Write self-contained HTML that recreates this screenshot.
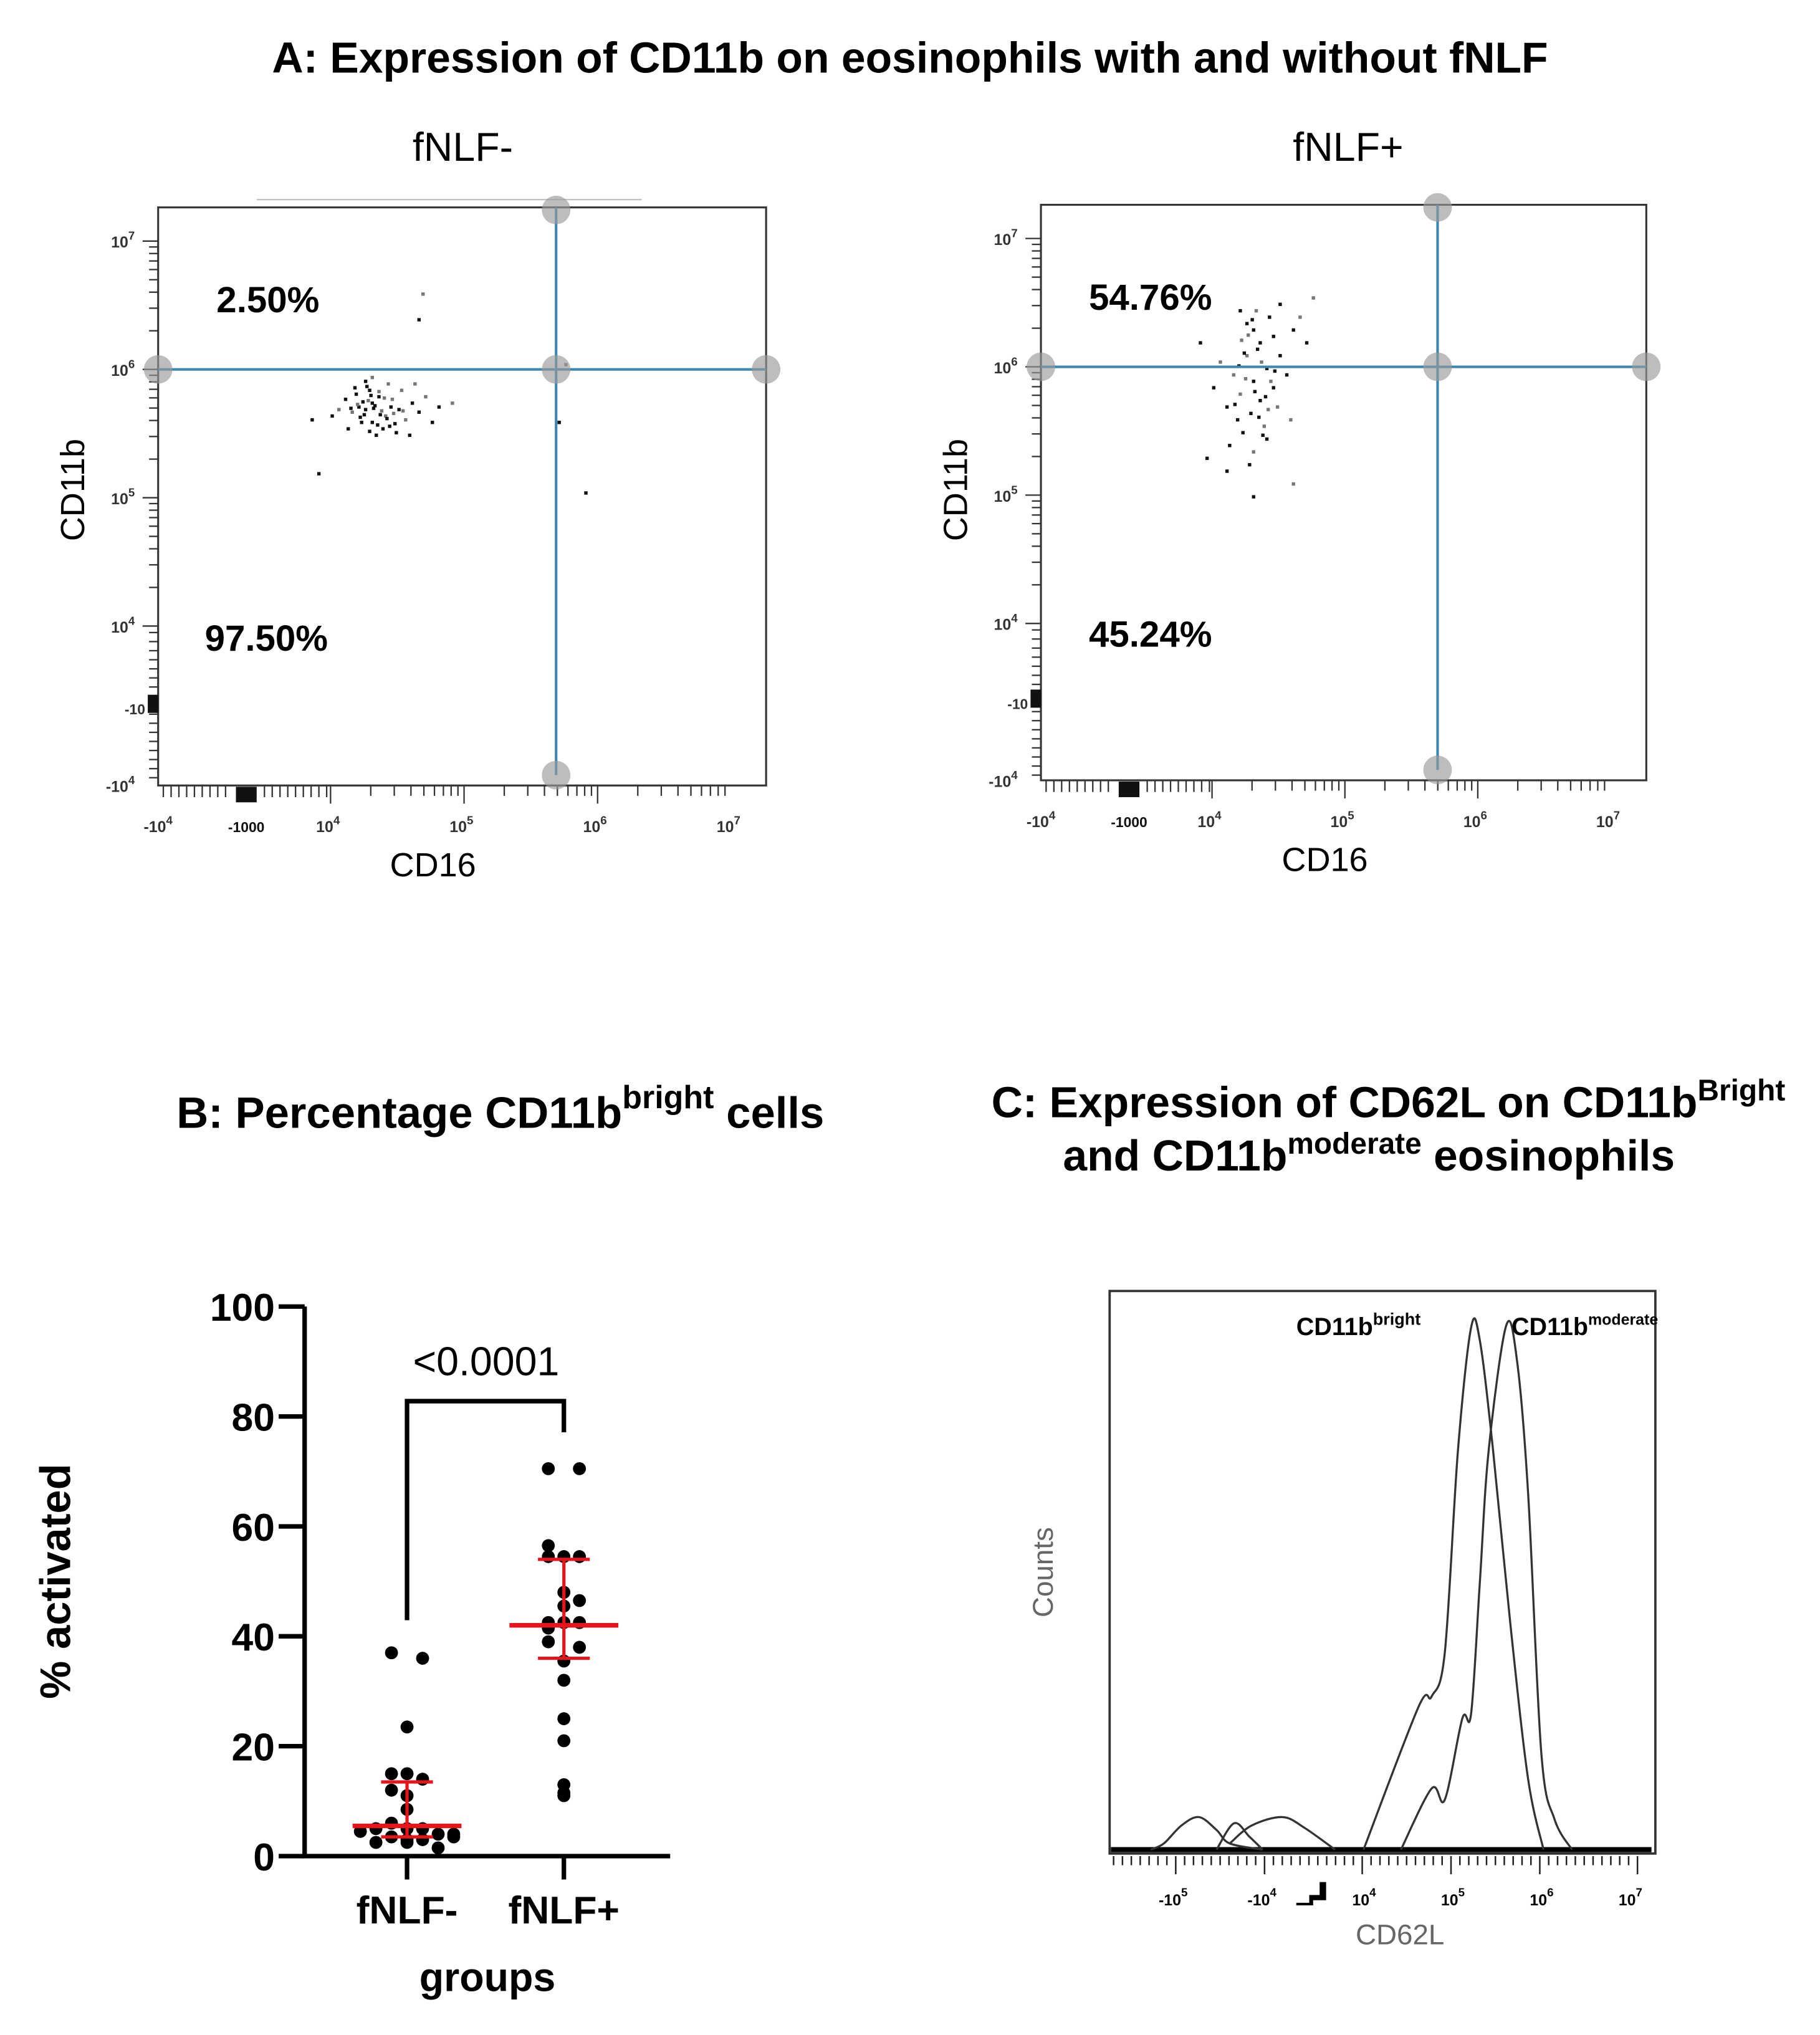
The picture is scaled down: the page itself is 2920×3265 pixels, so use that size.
<!DOCTYPE html>
<html><head><meta charset="utf-8"><style>
html,body{margin:0;padding:0;background:#fff}
svg{display:block}
text{font-family:"Liberation Sans",Arial,sans-serif}
</style></head><body>
<svg id="fig" width="2920" height="3265" viewBox="0 0 1404 1570" preserveAspectRatio="none" xmlns="http://www.w3.org/2000/svg">
<rect width="1404" height="1570" fill="#fff"/>
<text x="702" y="56" font-size="33.5" font-weight="bold" text-anchor="middle">A: Expression of CD11b on eosinophils with and without fNLF</text>
<text x="357" y="124" font-size="31" text-anchor="middle">fNLF-</text>
<text x="1040" y="124" font-size="31" text-anchor="middle">fNLF+</text>
<line x1="198" y1="154" x2="495" y2="154" stroke="#bbb" stroke-width="1"/>
<g id="panelA1"></g>
<g id="panelA2"></g>
<text x="386" y="870" font-size="34" font-weight="bold" text-anchor="middle">B: Percentage CD11b<tspan dy="-15" font-size="25">bright</tspan><tspan dy="15"> cells</tspan></text>
<text x="1071" y="862" font-size="33.5" font-weight="bold" text-anchor="middle">C: Expression of CD62L on CD11b<tspan dy="-13" font-size="23">Bright</tspan></text>
<text x="1056" y="903" font-size="33.5" font-weight="bold" text-anchor="middle">and CD11b<tspan dy="-13" font-size="23">moderate</tspan><tspan dy="13"> eosinophils</tspan></text>
<g id="panelB"></g>
<g id="panelC"></g>
</svg>
<script>
// ---------- Panel B data ----------
const bCategories = ["fNLF-", "fNLF+"];
const bNegValues = [37,36,23.5,15,15,14,12,11,8.5,6,5,5,5,4.5,4,4,3.5,3.5,3,3,2.5,2.5,1.5];
const bNegJitter = [-1,1,0,-1,0,1,-1,0,0,-1,-2,0,1,-3,3,2,-1,3,0,1,-2,0,2];
const bPosValues = [70.5,70.5,56.5,54.5,54.5,54.5,48,46.5,45.5,42.5,42.5,42.5,41.5,39,38,35.5,32,25,21,13,11.5,11];
const bPosJitter = [-1,1,-1,-1,0,1,0,1,0,-1,0,1,-1,-1,1,0,0,0,0,0,0,0];
const bMedian = [5.5, 42];
const bQ1 = [3.5, 36];
const bQ3 = [13.5, 54];
const bTicks = [0,20,40,60,80,100];
const bPText = "<0.0001";

// ---------- Panel C data ----------
const cBrightT = [2.115,2.733,2.882,3.03,3.178,3.326,3.425,3.574,3.771,3.969,4.142];
const cBrightC = [0,25.4,27.3,35.1,71.1,93.0,90.7,71.1,39.8,12.5,0];
const cModT = [2.536,2.882,3.03,3.228,3.326,3.425,3.524,3.722,3.846,3.969,4.117,4.266,4.463];
const cModC = [0,10.9,8.9,23.4,24.2,47.7,71.1,93.4,86.8,63.3,17.2,5.4,0];
const cNeg1T = [-0.282,-0.134,0.064,0.262,0.46,0.608,0.979];
const cNeg1C = [0,1.1,4.3,5.8,3.5,1.1,0];
const cNeg2T = [0.46,0.657,0.83,0.979];
const cNeg2C = [0,4.7,2.3,0];
const cNeg3T = [0.608,0.855,1.201,1.449,1.794];
const cNeg3C = [1.1,4.3,5.8,3.9,0];
const cTickT = [0,1,2.15,3.15,4.15,5.15];
const cTickExp = ["5","4","4","5","6","7"];
const cTickSign = ["-","-","","","",""];

// ---------- Panel A data (log10 values) ----------
const aNegX = [4.3,4.25,4.4,4.35,4.2,4.45,4.5,4.3,4.15,4.38,4.28,4.55,4.6,4.22,4.42,4.1,4.65,4.7,4.33,4.48,4.05,4.8,4.25,4.52,4.18,4.36,4.27,4.44,4.75,4.9,4.0,3.85,4.3,4.58,4.12,4.62,3.9,4.65,4.68,5.7,5.9,5.75,4.32,4.24,4.37,4.29,4.41,4.19,4.34,4.26,4.46,4.31,4.21,4.39,4.23,4.47,4.35,4.28,4.14,4.53,4.43,4.17];
const aNegY = [5.75,5.7,5.65,5.8,5.72,5.78,5.7,5.6,5.68,5.55,5.85,5.62,5.75,5.6,5.9,5.78,5.68,5.8,5.5,5.52,5.7,5.72,5.92,5.85,5.82,5.66,5.77,5.72,5.6,5.75,5.65,5.62,5.95,5.5,5.55,5.9,5.2,6.4,6.6,5.6,5.05,6.05,5.73,5.66,5.69,5.81,5.63,5.74,5.58,5.88,5.67,5.71,5.64,5.79,5.76,5.59,5.84,5.53,5.71,5.69,5.57,5.87];
const aPosX = [4.3,4.35,4.25,4.4,4.3,4.2,4.35,4.45,4.15,4.5,4.28,4.38,4.22,4.42,4.32,4.55,4.1,4.05,4.6,4.25,4.48,4.18,4.4,4.3,4.12,4.5,4.65,4.7,4.0,4.58,3.95,4.1,4.6,4.3,3.9,4.75,4.45,4.2,4.36,4.27,4.33,4.24,4.39,4.29,4.41,4.19,4.34,4.26,4.46,4.31,4.21,4.37,4.23,4.43,4.16];
const aPosY = [6.3,6.2,6.1,6.0,5.9,5.8,5.75,5.85,5.95,6.1,5.65,5.55,5.5,6.4,6.45,5.95,5.7,6.05,6.3,6.35,5.7,5.6,5.45,5.35,5.4,6.5,6.4,6.2,5.85,5.6,5.3,5.2,5.1,5.0,6.2,6.55,6.25,6.45,6.05,5.25,6.15,5.92,5.78,6.38,5.68,6.02,5.62,6.26,5.98,5.82,6.22,5.48,6.12,5.9,5.72];
const aNegQuad = ["2.50%","97.50%"];
const aPosQuad = ["54.76%","45.24%"];

const NS="http://www.w3.org/2000/svg";
function mk(parent,tag,attrs){const e=document.createElementNS(NS,tag);for(const k in attrs)e.setAttribute(k,attrs[k]);parent.appendChild(e);return e;}

// ----- Panel B -----
(function(){
  const g=document.getElementById('panelB');
  const y=v=>1432-v*4.24;
  const xc=[314,435];
  const ax=mk(g,'path',{d:'M235 1008 V1432 H517',fill:'none',stroke:'#000','stroke-width':3.5});
  
  
  bTicks.forEach(t=>{
    const l=mk(g,'line',{x1:215,x2:235,y1:y(t),y2:y(t),stroke:'#000','stroke-width':3.5});
    
    
    const tx=mk(g,'text',{x:212,y:y(t)+11,'font-size':30,'font-weight':'bold','text-anchor':'end'});
    tx.textContent=t;
    
    
  });
  xc.forEach((x,i)=>{
    const l=mk(g,'line',{x1:x,x2:x,y1:1432,y2:1450,stroke:'#000','stroke-width':3.5});
    
    
    const tx=mk(g,'text',{x:x,y:1484,'font-size':30,'font-weight':'bold','text-anchor':'middle'});
    tx.textContent=bCategories[i];
    
    
  });
  const yt=mk(g,'text',{x:0,y:0,'font-size':33,'font-weight':'bold','text-anchor':'middle',transform:'translate(54 1220) rotate(-90)'});
  yt.textContent='% activated';
  
  
  const xt=mk(g,'text',{x:376,y:1536,'font-size':31,'font-weight':'bold','text-anchor':'middle'});
  xt.textContent='groups';
  
  
  const top=1081;
  const br=mk(g,'path',{d:`M${xc[0]} 1250 V${top} H${xc[1]} V1105`,fill:'none',stroke:'#000','stroke-width':3.5});
  
  
  const pt=mk(g,'text',{x:375,y:1061,'font-size':31,'text-anchor':'middle'});
  pt.textContent=bPText;
  
  
  [[bNegValues,bNegJitter],[bPosValues,bPosJitter]].forEach((s,i)=>{
    s[0].forEach((v,j)=>{
      const c=mk(g,'circle',{cx:xc[i]+s[1][j]*12,cy:y(v),r:5,fill:'#000'});
      
      
    });
    const red='#e8141b';
    const m=mk(g,'line',{x1:xc[i]-42,x2:xc[i]+42,y1:y(bMedian[i]),y2:y(bMedian[i]),stroke:red,'stroke-width':3.5});
    
    
    const v=mk(g,'line',{x1:xc[i],x2:xc[i],y1:y(bQ1[i]),y2:y(bQ3[i]),stroke:red,'stroke-width':2.5});
    
    
    [bQ1[i],bQ3[i]].forEach(q=>{
      const h=mk(g,'line',{x1:xc[i]-20,x2:xc[i]+20,y1:y(q),y2:y(q),stroke:red,'stroke-width':2.5});
      
      
    });
  });
})();

// ----- Panel C -----
(function(){
  const g=document.getElementById('panelC');
  const X=t=>907+68.5*t, Y=c=>1427-c*4.33;
  const box=mk(g,'rect',{x:856,y:996,width:421,height:434,fill:'none',stroke:'#333','stroke-width':1.8});
  
  
  const base=mk(g,'line',{x1:857,x2:1274,y1:1427,y2:1427,stroke:'#000','stroke-width':4});
  
  
  [[cBrightT,cBrightC,'bright-curve'],[cModT,cModC,'moderate-curve'],[cNeg1T,cNeg1C,'negative-bump'],[cNeg2T,cNeg2C,'negative-bump'],[cNeg3T,cNeg3C,'negative-bump']].forEach(s=>{
    const P=s[0].map((t,i)=>[X(t),Y(s[1][i])]);
    let d='M'+P[0][0]+' '+P[0][1];
    for(let i=0;i<P.length-1;i++){
      const p0=P[Math.max(0,i-1)],p1=P[i],p2=P[i+1],p3=P[Math.min(P.length-1,i+2)];
      const c1=[p1[0]+(p2[0]-p0[0])/6,p1[1]+(p2[1]-p0[1])/6];
      const c2=[p2[0]-(p3[0]-p1[0])/6,p2[1]-(p3[1]-p1[1])/6];
      d+=` C${c1[0]} ${c1[1]} ${c2[0]} ${c2[1]} ${p2[0]} ${p2[1]}`;
    }
    const p=mk(g,'path',{d:d,fill:'none',stroke:'#333','stroke-width':1.6});
    
    
  });
  for(let t=-0.7;t<=5.2;t+=0.1){
    const major=cTickT.some(v=>Math.abs(v-t)<0.05);
    const l=mk(g,'line',{x1:X(t),x2:X(t),y1:1432,y2:major?1446:1439,stroke:'#222','stroke-width':1.2});
    
    
  }
  cTickT.forEach((t,i)=>{
    const tx=mk(g,'text',{x:X(t)-2,y:1470,'font-size':12,'font-weight':'bold','font-family':'Liberation Serif','text-anchor':'middle'});
    tx.innerHTML=cTickSign[i]+'10<tspan dy="-7" font-size="9">'+cTickExp[i]+'</tspan>';
    
    
  });
  const blk=mk(g,'path',{d:'M1000 1468 h10 v-6 h8 v-10 h5 v14 h-10 v4 h-13z',fill:'#000'});
  
  
  const xt=mk(g,'text',{x:1080,y:1500,'font-size':22,fill:'#666','text-anchor':'middle'});
  xt.textContent='CD62L';
  
  
  const yt=mk(g,'text',{x:0,y:0,'font-size':22,fill:'#666','text-anchor':'middle',transform:'translate(812 1213) rotate(-90)'});
  yt.textContent='Counts';
  
  
  const l1=mk(g,'text',{x:1000,y:1030,'font-size':19,'font-weight':'bold'});
  l1.innerHTML='CD11b<tspan dy="-8" font-size="13">bright</tspan>';
  
  
  const l2=mk(g,'text',{x:1166,y:1030,'font-size':19,'font-weight':'bold'});
  l2.innerHTML='CD11b<tspan dy="-8" font-size="12">moderate</tspan>';
  
  
})();

// ----- Panel A -----
function drawFlow(id,o,xs,ys,quad){
  const g=document.getElementById(id);
  const X=v=>o.x4+(v-4)*o.dx, Y=v=>o.y6-(v-6)*o.dy;
  const box=mk(g,'rect',{x:o.L,y:o.T,width:o.R-o.L,height:o.B-o.T,fill:'none',stroke:'#333','stroke-width':1.5});
  
  
  for(let d=4;d<7;d++){for(let k=1;k<10;k++){const yy=Y(d+Math.log10(k));
    const l=mk(g,'line',{x1:o.L-(k==1?12:7),x2:o.L,y1:yy,y2:yy,stroke:'#333','stroke-width':1.1});
    
    }}
  const yt7=mk(g,'line',{x1:o.L-12,x2:o.L,y1:Y(7),y2:Y(7),stroke:'#333','stroke-width':1.1});
  
  
  for(let yy=Y(4)+5;yy<o.B;yy+=7){const l=mk(g,'line',{x1:o.L-7,x2:o.L,y1:yy,y2:yy,stroke:'#333','stroke-width':1.1});
    
    }
  [[7,Y(7)],[6,Y(6)],[5,Y(5)],[4,Y(4)]].forEach(p=>{
    const tx=mk(g,'text',{x:o.L-18,y:p[1]+5,'font-size':12,'font-family':'Liberation Serif','font-weight':'bold','text-anchor':'end',fill:'#333'});
    tx.innerHTML='10<tspan dy="-6" font-size="9">'+p[0]+'</tspan>';
    
    
  });
  const ny=mk(g,'text',{x:o.L-18,y:o.B+5,'font-size':12,'font-family':'Liberation Serif','font-weight':'bold','text-anchor':'end',fill:'#333'});
  ny.innerHTML='-10<tspan dy="-6" font-size="9">4</tspan>';
  
  
  const yb=mk(g,'rect',{x:o.L-8,y:o.B-70,width:8,height:14,fill:'#111'});
  
  
  const yb2=mk(g,'text',{x:o.L-10,y:o.B-55,'font-size':11,'font-family':'Liberation Serif','font-weight':'bold','text-anchor':'end',fill:'#333'});
  yb2.textContent='-10';
  
  
  for(let d=4;d<7;d++){for(let k=1;k<10;k++){const xx=X(d+Math.log10(k));
    const l=mk(g,'line',{x1:xx,x2:xx,y1:o.B,y2:o.B+(k==1?14:8),stroke:'#333','stroke-width':1.1});
    
    }}
  for(let xx=o.L+4;xx<X(4);xx+=6){if(xx>o.L+55&&xx<o.L+82)continue;const l=mk(g,'line',{x1:xx,x2:xx,y1:o.B,y2:o.B+9,stroke:'#333','stroke-width':1.1});
    
    }
  const xb=mk(g,'rect',{x:o.L+60,y:o.B+1,width:16,height:12,fill:'#111'});
  
  
  [['-10','4',o.L+2],['10','4',X(4)],['10','5',X(5)],['10','6',X(6)],['10','7',X(7)]].forEach(p=>{
    const tx=mk(g,'text',{x:p[2]-2,y:o.B+36,'font-size':12,'font-family':'Liberation Serif','font-weight':'bold','text-anchor':'middle',fill:'#333'});
    tx.innerHTML=p[0]+'<tspan dy="-6" font-size="9">'+p[1]+'</tspan>';
    
    
  });
  const ml=mk(g,'text',{x:o.L+68,y:o.B+36,'font-size':11,'font-family':'Liberation Serif','font-weight':'bold','text-anchor':'middle',fill:'#111'});
  ml.textContent='-1000';
  
  
  xs.forEach((v,i)=>{
    const r=mk(g,'rect',{x:X(v),y:Y(ys[i]),width:2.6,height:2.6,fill:(i%3==2)?'#777':'#111'});
    
    
  });
  const qx=o.qx, qy=Y(6);
  const hl=mk(g,'line',{x1:o.L,x2:o.R,y1:qy,y2:qy,stroke:'#3b87b0','stroke-width':2});
  
  
  const vl=mk(g,'line',{x1:qx,x2:qx,y1:o.T,y2:o.B-8,stroke:'#3b87b0','stroke-width':2});
  
  
  [[o.L,qy],[qx,qy],[o.R,qy],[qx,o.T+2],[qx,o.B-8]].forEach(p=>{
    const c=mk(g,'circle',{cx:p[0],cy:p[1],r:11,fill:'#999','fill-opacity':0.65});
    
    
  });
  const q1=mk(g,'text',{x:o.qlx,y:o.q1y,'font-size':28,'font-weight':'bold'});
  q1.textContent=quad[0];
  
  
  const q2=mk(g,'text',{x:o.qlx2,y:o.q2y,'font-size':28,'font-weight':'bold'});
  q2.textContent=quad[1];
  
  
  const xt=mk(g,'text',{x:o.xtx,y:o.B+70,'font-size':26,'text-anchor':'middle'});
  xt.textContent='CD16';
  
  
  const yt=mk(g,'text',{x:0,y:0,'font-size':26,'text-anchor':'middle',transform:`translate(${o.L-57} ${o.ytY}) rotate(-90)`});
  yt.textContent='CD11b';
  
  
}
drawFlow('panelA1',{L:122,R:591,T:160,B:606,x4:255,dx:103,y6:285,dy:99,qx:429,qlx:167,q1y:241,qlx2:158,q2y:502,xtx:334,ytY:378},aNegX,aNegY,aNegQuad);
drawFlow('panelA2',{L:803,R:1270,T:158,B:602,x4:935,dx:102.5,y6:283,dy:99,qx:1109,qlx:840,q1y:239,qlx2:840,q2y:499,xtx:1022,ytY:378},aPosX,aPosY,aPosQuad);
</script>
</body></html>
